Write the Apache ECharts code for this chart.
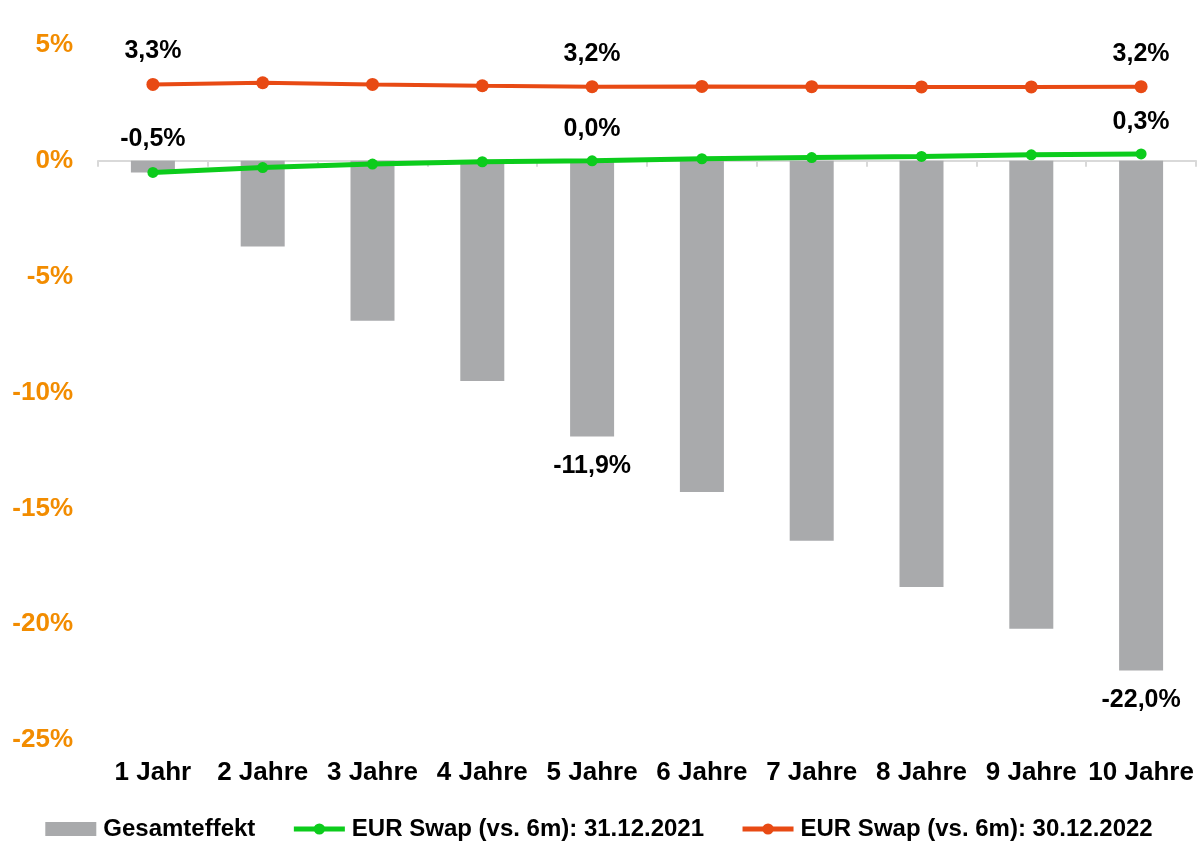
<!DOCTYPE html>
<html>
<head>
<meta charset="utf-8">
<script src="https://cdn.jsdelivr.net/npm/echarts@6/dist/echarts.min.js"></script>
<style>
  html, body { margin: 0; padding: 0; background: #ffffff; }
  #chart { width: 1198px; height: 842px; }
</style>
</head>
<body>
<div id="chart"></div>
<script>
// Laufzeiten
const categories = ['1 Jahr', '2 Jahre', '3 Jahre', '4 Jahre', '5 Jahre', '6 Jahre', '7 Jahre', '8 Jahre', '9 Jahre', '10 Jahre'];

// Gesamteffekt in %
const gesamteffekt = [-0.5, -3.7, -6.9, -9.5, -11.9, -14.3, -16.4, -18.4, -20.2, -22.0];

// EUR Swap-Sätze (vs. 6m) in %
const swap2021 = [-0.5, -0.29, -0.14, -0.04, 0.0, 0.09, 0.14, 0.19, 0.26, 0.3];
const swap2022 = [3.3, 3.37, 3.30, 3.24, 3.2, 3.21, 3.20, 3.19, 3.19, 3.2];

// Y-Achse
const yMin = -25, yMax = 5, yStep = 5;

// Welche Punkte eine Beschriftung tragen
const labelledBars = [4, 9];
const labelledPoints = [0, 4, 9];

const seriesNames = ['Gesamteffekt', 'EUR Swap (vs. 6m): 31.12.2021', 'EUR Swap (vs. 6m): 30.12.2022'];
const colors = { bar: '#a9aaac', green: '#0ccc1c', red: '#e84a14' };

const FONT = '"Liberation Sans", Arial, sans-serif';
const fmt = v => v.toFixed(1).replace('.', ',') + '%';

const labelStyle = { fontFamily: FONT, fontWeight: 'bold', fontSize: 25, color: '#000000' };

function withLabels(values, idxList, labelCfg) {
  return values.map((v, i) => idxList.includes(i)
    ? { value: v, label: Object.assign({ show: true, formatter: () => fmt(v) }, labelStyle, labelCfg(i)) }
    : v);
}

const chart = echarts.init(document.getElementById('chart'), null, { renderer: 'canvas' });

chart.setOption({
  animation: false,
  backgroundColor: '#ffffff',
  grid: { left: 98, right: 2, top: 45, bottom: 102, containLabel: false },
  legend: {
    top: 812,
    left: 'center',
    itemWidth: 51,
    itemHeight: 14,
    itemGap: 36,
    textStyle: { fontFamily: FONT, fontWeight: 'bold', fontSize: 24, color: '#000000', padding: [0, 0, 0, 2] },
    data: [
      { name: seriesNames[0], icon: 'rect', itemStyle: { color: colors.bar } },
      { name: seriesNames[1], lineStyle: { width: 5, color: colors.green }, itemStyle: { color: colors.green } },
      { name: seriesNames[2], lineStyle: { width: 5, color: colors.red }, itemStyle: { color: colors.red } }
    ]
  },
  xAxis: [
    {
      type: 'category',
      data: categories,
      position: 'bottom',
      axisLine: { show: false, onZero: false },
      axisTick: { show: false },
      axisLabel: { interval: 0, margin: 20, fontFamily: FONT, fontWeight: 'bold', fontSize: 26, color: '#000000' }
    },
    {
      type: 'category',
      data: categories,
      position: 'bottom',
      axisLine: { show: true, onZero: true, lineStyle: { color: '#d9d9d9', width: 2 } },
      axisTick: { show: true, length: 6, lineStyle: { color: '#d9d9d9', width: 2 } },
      axisLabel: { show: false }
    }
  ],
  yAxis: {
    type: 'value',
    min: yMin,
    max: yMax,
    interval: yStep,
    axisLine: { show: false },
    axisTick: { show: false },
    splitLine: { show: false },
    axisLabel: {
      margin: 25,
      formatter: v => v + '%',
      fontFamily: FONT, fontWeight: 'bold', fontSize: 26, color: '#f28c00'
    }
  },
  series: [
    {
      name: seriesNames[0],
      type: 'bar',
      xAxisIndex: 0,
      barWidth: 44,
      itemStyle: { color: colors.bar },
      data: withLabels(gesamteffekt, labelledBars, () => ({ position: 'bottom', distance: 17 })),
      z: 1
    },
    {
      name: seriesNames[1],
      type: 'line',
      xAxisIndex: 0,
      symbol: 'circle',
      symbolSize: 11,
      lineStyle: { color: colors.green, width: 5 },
      itemStyle: { color: colors.green },
      data: withLabels(swap2021, labelledPoints, i => ({ position: 'top', distance: i === 0 ? 15 : 14 })),
      z: 3
    },
    {
      name: seriesNames[2],
      type: 'line',
      xAxisIndex: 0,
      symbol: 'circle',
      symbolSize: 13,
      lineStyle: { color: colors.red, width: 4 },
      itemStyle: { color: colors.red },
      data: withLabels(swap2022, labelledPoints, () => ({ position: 'top', distance: 14 })),
      z: 4
    }
  ]
});
</script>
</body>
</html>
